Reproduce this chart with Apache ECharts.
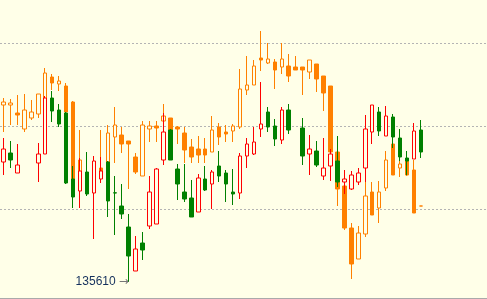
<!DOCTYPE html>
<html><head><meta charset="utf-8">
<script src="https://cdn.jsdelivr.net/npm/echarts@6/dist/echarts.min.js"></script>
<style>html,body{margin:0;padding:0;background:#ffffe8;}#c{width:487px;height:299px;}</style>
</head><body><div id="c"></div>
<script>
const categories = ['1','2','3','4','5','6','7','8','9','10','11','12','13','14','15','16','17','18','19','20',
  '21','22','23','24','25','26','27','28','29','30','31','32','33','34','35','36','37','38','39','40',
  '41','42','43','44','45','46','47','48','49','50','51','52','53','54','55','56','57','58','59','60',
  '61','62','63','64','65','66','67','68','69','70'];

// orange series
const orangeOpen = [137380,137380,137300,137140,137250,137290,137380,137660,137590,137570,
  137410,136670,136650,136580,136750,136810,137060,137080,137020,136860,
  136670,137140,137170,137220,137250,137160,137100,136960,136940,136940,
  136910,137160,137110,137120,137160,137530,137580,137850,137800,137810,
  137760,137770,137760,137760,137710,137790,137670,137570,136910,136570,
  136150,135840,136090,136510,136350,136550,136990,136750,136820,136730,
  136370];
const orangeClose = [137410,137400,137280,137330,137310,137490,137700,137600,137620,137310,
  136640,136830,136570,136680,136710,137100,137180,136990,136990,136710,
  137180,137170,137150,137270,137130,137140,136930,136860,136880,136880,
  137130,137060,137090,137170,137540,137580,137770,137830,137840,137730,
  137840,137670,137730,137730,137830,137640,137500,136910,136540,136150,
  135790,136100,136470,136280,136510,136830,136680,136790,136680,136300,
  136370];
const orangeLow = [137110,137180,137180,137110,137230,137250,137380,137530,137520,137300,
  136630,136650,136550,136570,136710,136800,136800,136900,136540,136690,
  136670,137010,137010,137190,137120,136990,136800,136800,136800,136800,
  136910,136980,137010,137010,137140,137480,137580,137720,137790,137540,
  137690,137610,137730,137480,137640,137510,137320,136910,136370,136130,
  135640,135840,136060,136280,136200,136520,136680,136660,136670,136300,
  136370];
const orangeHigh = [137450,137440,137480,137490,137430,137490,137750,137690,137670,137600,
  137420,137130,136670,136690,137130,137180,137360,137160,137020,136900,
  137220,137220,137220,137390,137250,137170,137160,137040,137070,137050,
  137270,137200,137180,137190,137740,137870,137830,138120,138000,137840,
  138000,137890,137870,137760,137830,137790,137670,137570,136910,136570,
  136200,136170,136610,136610,136620,136920,136990,136820,136850,136830,
  136370];

// red / green series
const rgOpen = [136810,136900,136700,'-','-',136800,136890,137450,137330,137300,
  136640,136520,136710,136500,136640,136810,136502,136370,136160,135720,
  136000,136170,136190,136830,137130,136740,136510,136450,136310,136640,
  136590,136770,136700,136510,136500,136870,136890,137140,137310,137170,
  137030,137330,'-',137150,136890,136920,136670,136770,136820,136610,
  136540,136610,136750,137110,137310,137070,137260,137050,136850,136840,
  137130];
const rgClose = [136940,136830,136780,'-','-',136890,137450,137320,137190,136600,
  136460,136720,136490,136820,136720,136420,136500,136290,135870,135940,
  135930,136510,136740,137110,136830,136590,136440,136260,136650,136530,
  136710,136670,136590,136490,136870,136990,137010,137190,137160,137040,
  137330,137130,'-',136870,136940,136780,136750,136890,136610,136640,
  136680,136700,137140,137380,137120,137270,137060,136860,136820,137120,
  136910];
const rgLow = [136680,136750,136700,'-','-',136610,136890,137210,137160,136590,
  136350,136350,136470,136040,136600,136260,136080,136240,135610,135720,
  135830,136140,136190,136780,136830,136430,136410,136260,136310,136520,
  136340,136610,136410,136380,136440,136750,136880,137060,137110,136970,
  136990,137090,'-',136780,136680,136760,136630,136620,136560,136490,
  136530,136580,136610,136990,137070,137070,136950,136820,136680,136840,
  136850];
const rgHigh = [137050,137020,136990,'-','-',137000,137470,137520,137390,137310,
  136770,136850,136910,136870,136860,136820,136670,136590,136290,136070,
  136110,136670,136750,137300,137140,136790,136790,136630,136690,136770,
  136730,136920,136730,136740,136900,137050,137160,137610,137360,137240,
  137360,137390,'-',137250,137080,137020,137050,136940,137070,136730,
  136720,136750,137280,137380,137360,137370,137290,137140,136920,137200,
  137230];

const gridLevels = [138000, 137170, 136340];

const BG = '#ffffe8';
const toOHLC = (o, c, l, h) => o.map((v, i) => v === '-' ? '-' : [v, c[i], l[i], h[i]]);
const orangeData = toOHLC(orangeOpen, orangeClose, orangeLow, orangeHigh);
const rgData = toOHLC(rgOpen, rgClose, rgLow, rgHigh);

let minIdx = -1, minVal = Infinity;
rgLow.forEach((v, i) => { if (v !== '-' && v < minVal) { minVal = v; minIdx = i; } });

const chart = echarts.init(document.getElementById('c'), null, {renderer: 'canvas'});
chart.setOption({
  animation: false,
  backgroundColor: BG,
  grid: {left: -2.5, top: 0, width: 490, height: 298},
  xAxis: {
    type: 'category', data: categories, boundaryGap: true,
    axisLine: {show: true, lineStyle: {color: '#aaaaaa', width: 1}},
    axisTick: {show: false}, axisLabel: {show: false}, splitLine: {show: false}
  },
  yAxis: {
    type: 'value', min: 135450, max: 138430, show: false,
    splitLine: {show: false}
  },
  series: [
    {
      type: 'candlestick', name: 'orange', data: orangeData, barWidth: 4, z: 2,
      itemStyle: {color: BG, color0: '#ff8000', borderColor: '#ff8000', borderColor0: '#ff8000', borderWidth: 1},
      markLine: {
        z: 1, silent: true, symbol: ['none', 'none'],
        label: {show: false},
        lineStyle: {color: '#b4b4b4', type: [2, 2], width: 1},
        emphasis: {disabled: true},
        data: gridLevels.map(v => ({yAxis: v}))
      }
    },
    {
      type: 'candlestick', name: 'rg', data: rgData, barWidth: 4, z: 3,
      itemStyle: {color: BG, color0: '#008000', borderColor: '#ff0000', borderColor0: '#008000', borderWidth: 1},
      markPoint: {
        symbol: 'circle', symbolSize: 0, silent: true,
        data: [{coord: [minIdx, minVal], value: minVal}],
        label: {
          show: true, position: 'left', distance: 0,
          formatter: p => '{t|' + p.value + '}{a|→}',
          rich: {
            t: {color: '#14305c', fontSize: 12, fontFamily: 'Liberation Sans', padding: [0, 3, 0, 0]},
            a: {color: '#777777', fontSize: 12, fontFamily: 'DejaVu Sans'}
          }
        }
      }
    }
  ]
});
</script>
</body></html>
